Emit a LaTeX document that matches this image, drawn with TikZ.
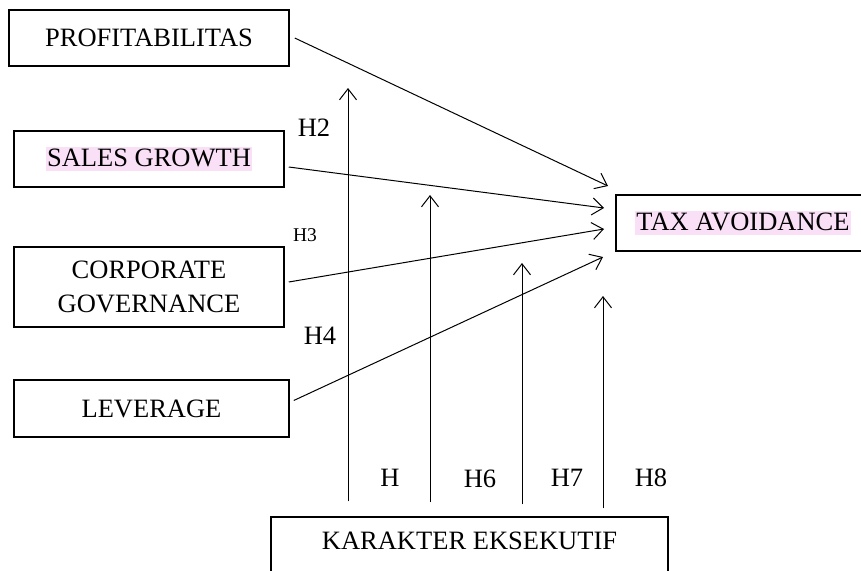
\documentclass[tikz,border=0pt]{standalone}
\usepackage{fontspec}
\setmainfont{Liberation Serif}
\usetikzlibrary{arrows.meta}
\definecolor{pinkhl}{HTML}{FAE0F7}
\newcommand{\hl}[1]{{\setlength{\fboxsep}{0pt}\colorbox{pinkhl}{\rule[-5pt]{0pt}{24pt}\hspace{1pt}#1\hspace{1pt}}}}
\tikzset{
  varbox/.style={draw, line width=1.5pt, inner sep=0pt, align=center,
    font=\fontsize{26.5}{34}\selectfont},
  hlabel/.style={inner sep=0pt, font=\fontsize{26.5}{30}\selectfont},
  smalllabel/.style={inner sep=0pt, font=\fontsize{19.5}{22}\selectfont},
  arr/.style={line width=1pt, -{Straight Barb[length=11pt,width=17pt]}},
}
\begin{document}
\begin{tikzpicture}[x=1pt,y=-1pt]
\useasboundingbox (0,0) rectangle (861,570);
% boxes
\node[varbox, minimum width=280, minimum height=56] (prof) at (149,38) {PROFITABILITAS};
\node[varbox, minimum width=270, minimum height=56] (sales) at (149,159) {\hl{SALES GROWTH}};
\node[varbox, minimum width=270, minimum height=80] (corp) at (149,287) {CORPORATE\\GOVERNANCE};
\node[varbox, minimum width=275, minimum height=57] (lev) at (151.5,408.5) {LEVERAGE};
\node[varbox, minimum width=254, minimum height=56] (tax) at (743,223) {\hl{TAX AVOIDANCE}};
\node[varbox, minimum width=397, minimum height=60, text height=17pt, text depth=13pt] (kar) at (469.5,547) {KARAKTER EKSEKUTIF};
% arrow tip coordinates
\coordinate (t1) at (608,186);
\coordinate (t2) at (604,208);
\coordinate (t3) at (604,229);
\coordinate (t4) at (603,257);
\coordinate (v1) at (348,88);
\coordinate (v2) at (430,195);
\coordinate (v3) at (522,263);
\coordinate (v4) at (603,296);
% connectors
\draw[arr] ([xshift=5pt]prof.east) -- (t1);
\draw[arr] ([shift={(4,8)}]sales.east) -- (t2);
\draw[arr] ([shift={(4,-5)}]corp.east) -- (t3);
\draw[arr] ([shift={(4,-8)}]lev.east) -- (t4);
\draw[arr] ([yshift=15pt]kar.north -| v1) -- (v1);
\draw[arr] ([yshift=14pt]kar.north -| v2) -- (v2);
\draw[arr] ([yshift=12pt]kar.north -| v3) -- (v3);
\draw[arr] ([yshift=8pt]kar.north -| v4) -- (v4);
% labels
\node[hlabel] (h2) at (314,128) {H2};
\node[smalllabel] (h3) at (305,235) {H3};
\node[hlabel] (h4) at (320,336) {H4};
\node[hlabel] (h5) at (390,478) {H};
\node[hlabel] (h6) at (480,479) {H6};
\node[hlabel] (h7) at (567,478) {H7};
\node[hlabel] (h8) at (651,478) {H8};
\end{tikzpicture}
\end{document}
